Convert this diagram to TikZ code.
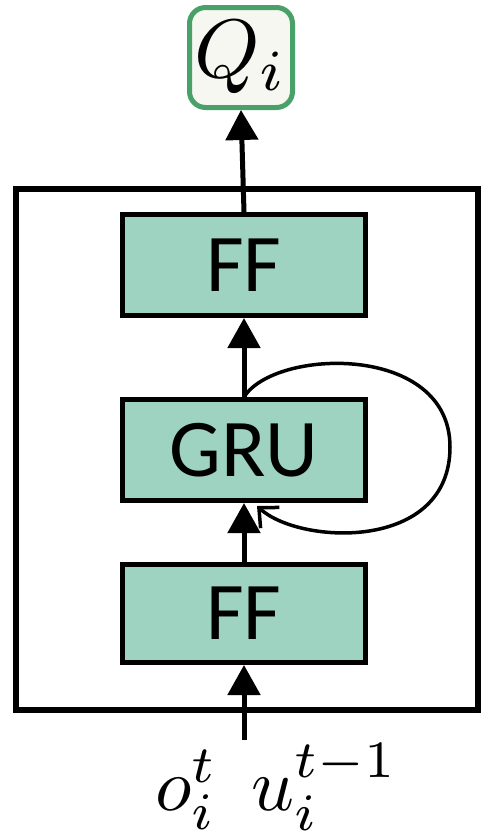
\documentclass[tikz,border=0pt]{standalone}
\usepackage{graphicx}
\usepackage{fontspec}
\newfontfamily\boxfont{Carlito}
\usetikzlibrary{arrows.meta}
\definecolor{boxfill}{RGB}{157,211,192}
\definecolor{qfill}{RGB}{245,247,240}
\definecolor{qborder}{RGB}{74,160,105}
\tikzset{
  layerbox/.style={draw=black, line width=5pt, fill=boxfill, minimum width=243pt, minimum height=101pt, inner sep=0pt, font=\boxfont\fontsize{82}{90}\selectfont},
  flow/.style={line width=5pt, -{Triangle[length=30pt,width=32pt]}},
  loop/.style={line width=3.5pt, -{Straight Barb[length=15pt,width=28pt,line width=3.5pt]}},
}
\begin{document}
\begin{tikzpicture}[x=1pt,y=-1pt]
\useasboundingbox (0,0) rectangle (485,833);
\draw[line width=6pt] (16,189) rectangle (478,710);
\node[layerbox] (ff2) at (244,265) {FF};
\node[layerbox] (gru) at (244,450) {GRU};
\node[layerbox, minimum height=98pt] (ff1) at (244,613.5) {FF};
\node[draw=qborder, line width=5pt, fill=qfill, rounded corners=16pt, minimum width=103pt, minimum height=100pt, inner sep=0pt] (q) at (241,57.5) {\scalebox{8.3}{$Q_i$}};
\coordinate (in) at (244,740);
\node[anchor=base west, inner sep=0pt] (lab) at (155,810) {\scalebox{7.5}{$o_i^t\hspace{0.45em}u_i^{t-1}$}};
\draw[flow] (in) -- (ff1.south);
\draw[flow] (ff1.north) -- (gru.south);
\draw[flow] (gru.north) -- (ff2.south);
\draw[flow] (ff2.north) -- (q.south);
\draw[loop] (gru.north) .. controls (275,348) and (450,343) .. (450,447) .. controls (450,552) and (300,545) .. (257,506);
\end{tikzpicture}
\end{document}
